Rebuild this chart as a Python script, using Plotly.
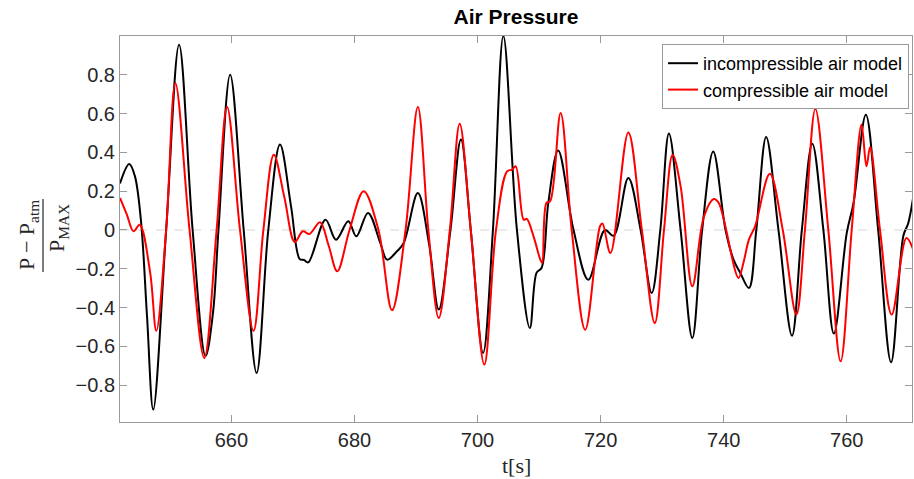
import plotly.graph_objects as go

# Incompressible air model (black)
t_incomp = [641.9, 643.4, 644.3, 645.3, 646.3, 647.3, 649.4, 651.5, 653.7, 655.8, 657.0, 657.9,
            659.8, 662.0, 664.1, 666.0, 667.9, 669.7, 671.1, 671.8, 672.5, 675.3, 677.0, 679.0,
            680.3, 682.2, 684.2, 685.3, 686.9, 688.0, 690.3, 692.1, 693.7, 695.6, 697.3, 698.9,
            700.9, 702.5, 704.2, 706.4, 708.5, 709.6, 710.4, 711.5, 713.1, 715.6, 718.0, 720.7,
            722.1, 724.5, 726.5, 728.3, 729.7, 731.1, 733.0, 734.9, 736.5, 738.3, 740.3, 741.6,
            742.7, 744.1, 745.3, 746.9, 748.9, 751.1, 752.7, 754.4, 756.2, 757.9, 760.0, 761.1,
            763.1, 765.1, 767.2, 769.2, 770.0, 770.9]
p_incomp = [0.24, 0.34, 0.28, 0.05, -0.45, -0.926, 0.0, 0.955, 0.0, -0.65, -0.43, 0.0,
            0.80, 0.0, -0.737, 0.0, 0.44, 0.12, -0.15, -0.155, -0.167, 0.053, -0.05, 0.045,
            -0.033, 0.088, -0.067, -0.153, -0.11, -0.067, 0.19, -0.067, -0.41, 0.0, 0.466, 0.0,
            -0.634, 0.0, 1.0, 0.0, -0.505, -0.22, -0.196, 0.14, 0.41, 0.0, -0.256, 0.0,
            -0.03, 0.268, 0.0, -0.325, 0.0, 0.497, 0.0, -0.557, 0.0, 0.405, 0.0, -0.153,
            -0.222, -0.299, 0.0, 0.479, 0.0, -0.545, 0.0, 0.445, 0.0, -0.534, -0.015, 0.139,
            0.594, 0.0, -0.682, -0.03, 0.036, 0.19]

# Compressible air model (red)
t_comp = [641.9, 643.0, 644.1, 645.1, 646.8, 647.8, 649.4, 650.9, 653.2, 655.6, 657.6, 659.3,
          661.4, 663.6, 665.2, 666.9, 668.6, 670.3, 671.6, 672.7, 674.4, 675.8, 677.2, 679.2,
          681.5, 683.9, 686.1, 688.3, 690.3, 692.0, 693.7, 695.5, 697.1, 698.9, 701.1, 703.0,
          704.8, 705.6, 706.2, 707.5, 708.0, 709.1, 710.2, 710.5, 711.2, 711.8, 713.5, 715.3,
          717.5, 719.9, 720.3, 721.6, 724.5, 726.7, 728.8, 730.3, 731.7, 733.0, 734.9, 736.8,
          738.4, 739.2, 742.4, 743.2, 744.1, 745.1, 747.5, 749.6, 751.8, 753.2, 754.9, 757.0,
          759.0, 760.8, 762.4, 763.2, 763.8, 765.4, 767.3, 769.7, 770.9]
p_comp = [0.165, 0.08, -0.007, 0.027, -0.22, -0.52, 0.0, 0.757, 0.0, -0.66, 0.0, 0.634,
          0.0, -0.52, 0.0, 0.388, 0.17, -0.062, -0.007, -0.02, 0.04, -0.08, -0.213, 0.0,
          0.2, 0.0, -0.414, 0.0, 0.634, 0.0, -0.454, 0.0, 0.548, 0.0, -0.694, 0.0,
          0.302, 0.311, 0.328, 0.053, 0.057, -0.033, -0.153, -0.17, 0.14, 0.148, 0.603, 0.0,
          -0.514, 0.019, 0.033, -0.119, 0.503, 0.0, -0.48, 0.0, 0.388, 0.225, -0.29, 0.07,
          0.16, 0.139, -0.247, -0.17, -0.05, 0.019, 0.29, 0.0, -0.436, 0.0, 0.624, 0.0,
          -0.677, 0.0, 0.543, 0.328, 0.428, 0.0, -0.436, -0.041, -0.11]

x_ticks = [660, 680, 700, 720, 740, 760]
y_ticks = [-0.8, -0.6, -0.4, -0.2, 0, 0.2, 0.4, 0.6, 0.8]
y_tick_text = ["−0.8", "−0.6", "−0.4", "−0.2", "0", "0.2", "0.4", "0.6", "0.8"]
x_range = [641.9, 770.6]
y_range = [-0.99, 1.0]

W, H = 914, 479
ML, MR, MT, MB = 120, 2, 36, 57
pw, ph = W - ML - MR, H - MT - MB


def px(xp):
    return (xp - ML) / pw


def py(yp):
    return (H - MB - yp) / ph


fig = go.Figure()
fig.add_trace(go.Scatter(x=t_incomp, y=p_incomp, mode="lines", name="incompressible air model",
                         line=dict(color="black", width=2, shape="spline", smoothing=1.0)))
fig.add_trace(go.Scatter(x=t_comp, y=p_comp, mode="lines", name="compressible air model",
                         line=dict(color="#ff0000", width=2, shape="spline", smoothing=1.0)))

axis_common = dict(showline=True, linecolor="#9a9a9a", linewidth=1, mirror="ticks",
                   ticks="inside", ticklen=7, tickcolor="#9a9a9a", showgrid=False,
                   zeroline=False, automargin=False,
                   tickfont=dict(family="Liberation Sans, Arial", size=20, color="#262626"))

fig.update_layout(
    width=W, height=H,
    margin=dict(l=ML, r=MR, t=MT, b=MB),
    plot_bgcolor="white", paper_bgcolor="white",
    title=dict(text="<b>Air Pressure</b>", xref="paper", x=0.5, xanchor="center",
               yref="container", y=1 - 17 / H, yanchor="middle",
               font=dict(family="Liberation Sans, Arial", size=21, color="black")),
    xaxis=dict(range=x_range, tickvals=x_ticks, **axis_common),
    yaxis=dict(range=y_range, tickvals=y_ticks, ticktext=y_tick_text, **axis_common),
    legend=dict(x=px(909), y=py(44), xanchor="right", yanchor="top", bgcolor="white",
                bordercolor="#9a9a9a", borderwidth=1,
                font=dict(family="Liberation Sans, Arial", size=18, color="black"),
                itemwidth=30, tracegroupgap=0),
    showlegend=True,
)

# dashed zero reference line
fig.add_shape(type="line", xref="paper", yref="y", x0=0, x1=1, y0=0, y1=0,
              line=dict(color="#e3e3e3", width=1.5, dash="dash"), layer="below")

# y-axis label as a fraction
serif = dict(family="Liberation Serif, DejaVu Serif", size=22, color="#262626")
fig.add_annotation(text="P − P<sub>atm</sub>", xref="paper", yref="paper", x=px(28), y=py(235),
                   textangle=-90, showarrow=False, font=serif, xanchor="center", yanchor="middle")
fig.add_shape(type="line", xref="paper", yref="paper", x0=px(43), x1=px(43), y0=py(199), y1=py(272),
              line=dict(color="#262626", width=1.2))
fig.add_annotation(text="P<sub>MAX</sub>", xref="paper", yref="paper", x=px(58), y=py(228),
                   textangle=-90, showarrow=False, font=serif, xanchor="center", yanchor="middle")
# x-axis label
fig.add_annotation(text="t[s]", xref="paper", yref="paper", x=px(516), y=py(465),
                   showarrow=False, font=serif, xanchor="center", yanchor="middle")

fig.write_html("out.html", config={"displayModeBar": False},
               post_script="document.body.style.margin='0';document.body.style.overflow='hidden';")
